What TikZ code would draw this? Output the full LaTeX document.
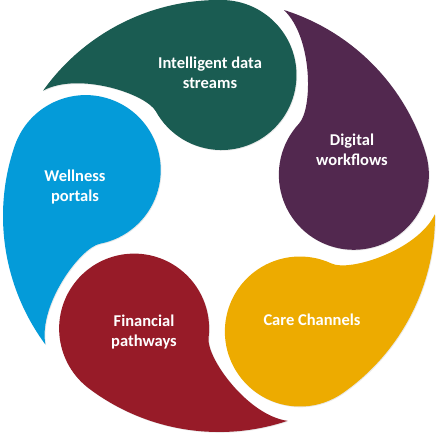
\documentclass[tikz,border=0pt]{standalone}
\usepackage{fontspec}
\setmainfont{Carlito}
\usetikzlibrary{shadows}
\definecolor{tealdrop}{HTML}{1A5C52}
\definecolor{plumdrop}{HTML}{52284F}
\definecolor{golddrop}{HTML}{EDAB00}
\definecolor{reddrop}{HTML}{971B28}
\definecolor{bluedrop}{HTML}{049BD9}
\begin{document}
\begin{tikzpicture}[x=1pt, y=1pt,
  every node/.style = {align=center, text=white,
    font=\bfseries\fontsize{16.5}{20}\selectfont},
  petal/.style = {fill=#1, draw=none,
    drop shadow={opacity=.18, shadow xshift=.8pt, shadow yshift=-.8pt}}]
  \useasboundingbox (-219,-223) rectangle (220,216);
  \foreach \rot/\col in {-1/tealdrop, -73/plumdrop, -145/golddrop, 143/reddrop, 71/bluedrop}
  {
    \begin{scope}[rotate=\rot]
      \path[petal=\col] (145.5:216) arc[start angle=145.5, end angle=90, radius=216pt]
        arc[start angle=90, end angle=-150, radius=75pt]
        .. controls (-75,121) and (-143,142) .. (145.5:216) -- cycle;
    \end{scope}
  }
  \node (streams) at (-9,143) {Intelligent data\\streams};
  \node (workflows) at (133,66) {Digital\\workflows};
  \node (channels) at (93,-104) {Care Channels};
  \node (pathways) at (-75,-116) {Financial\\pathways};
  \node (portals) at (-144,29) {Wellness\\portals};
\end{tikzpicture}
\end{document}
